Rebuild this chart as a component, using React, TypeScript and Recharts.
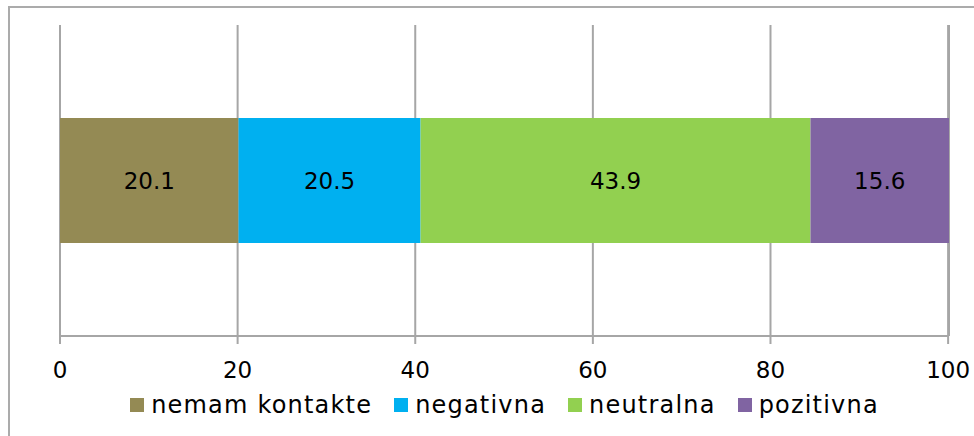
import { BarChart, Bar, XAxis, YAxis, CartesianGrid, LabelList } from "recharts";

const categories = ["odnos"];
const seriesNames = ["nemam kontakte", "negativna", "neutralna", "pozitivna"];
const seriesKeys = ["nemam", "negativna", "neutralna", "pozitivna"];
const seriesValues = [20.1, 20.5, 43.9, 15.6];
const seriesColors = ["#948A54", "#00B0F0", "#92D050", "#8064A2"];
const xTicks = [0, 20, 40, 60, 80, 100];

const data = categories.map((name) => {
  const row: Record<string, string | number> = { name };
  seriesKeys.forEach((k, i) => {
    row[k] = seriesValues[i];
  });
  return row;
});

const FONT = "'DejaVu Sans', sans-serif";
const GRID = "#A6A6A6";

const ChartLegend = () => (
  <div
    style={{
      position: "absolute",
      left: 60,
      top: 390,
      width: 889,
      display: "flex",
      justifyContent: "center",
      alignItems: "center",
      fontFamily: FONT,
      fontSize: 24,
      letterSpacing: 1.2,
      lineHeight: "30px",
      color: "#000",
    }}
  >
    {seriesNames.map((n, i) => (
      <div key={n} style={{ display: "flex", alignItems: "center", marginRight: i < seriesNames.length - 1 ? 22 : 0 }}>
        <span style={{ width: 14, height: 14, background: seriesColors[i], marginRight: 7, display: "inline-block" }} />
        <span>{n}</span>
      </div>
    ))}
  </div>
);

export default function App() {
  return (
    <div style={{ position: "relative", width: 974, height: 436, overflow: "hidden", background: "#fff" }}>
      <style>{`body{margin:0}`}</style>
      <div
        style={{
          position: "absolute",
          left: 8,
          top: 6,
          width: 1000,
          height: 460,
          border: "2px solid #ABABAB",
          boxSizing: "border-box",
        }}
      />
      <div style={{ position: "absolute", left: 0, top: 0 }}>
        <BarChart
          width={974}
          height={436}
          data={data}
          layout="vertical"
          margin={{ top: 25, right: 25, bottom: 70, left: 60 }}
        >
          <CartesianGrid horizontal={false} stroke={GRID} strokeWidth={2} />
          <XAxis
            type="number"
            domain={[0, 100]}
            ticks={xTicks}
            interval={0}
            axisLine={{ stroke: GRID, strokeWidth: 2 }}
            tickLine={{ stroke: GRID, strokeWidth: 2 }}
            tickSize={8}
            tickMargin={18}
            height={30}
            tick={{ fill: "#000", fontSize: 23, fontFamily: FONT }}
          />
          <YAxis type="category" dataKey="name" hide />
          {seriesKeys.map((k, i) => (
            <Bar
              key={k}
              dataKey={k}
              name={seriesNames[i]}
              stackId="a"
              fill={seriesColors[i]}
              barSize={125}
              isAnimationActive={false}
            >
              <LabelList dataKey={k} position="center" fill="#000" fontSize={23} fontFamily={FONT} />
            </Bar>
          ))}
        </BarChart>
      </div>
      <ChartLegend />
    </div>
  );
}
